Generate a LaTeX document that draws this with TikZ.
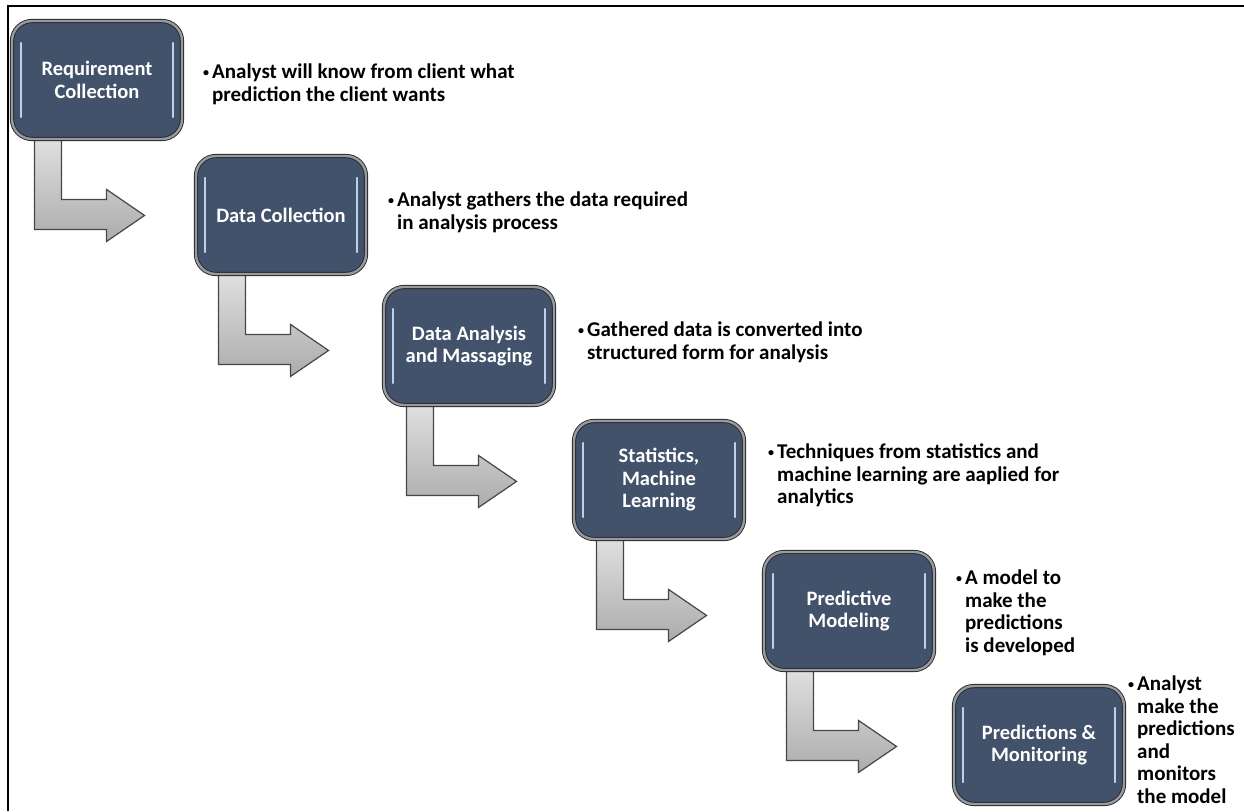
\documentclass[tikz,border=0pt]{standalone}
\usepackage{fontspec}
\setmainfont{Carlito}
\usetikzlibrary{calc,backgrounds}
\definecolor{boxfill}{RGB}{66,82,106}
\definecolor{boxring}{RGB}{150,155,162}
\definecolor{hilite}{RGB}{190,208,232}
\definecolor{arrline}{RGB}{70,70,70}
\tikzset{
  stagebox/.style={draw=black!85, line width=0.9pt, double=boxring, double distance=2.4pt,
    fill=boxfill, rounded corners=20pt, minimum width=170pt, minimum height=118pt,
    text=white, font=\bfseries\fontsize{20.5}{22.5}\selectfont, align=center, inner sep=4pt,
    path picture={
      \draw[hilite, line width=2.4pt, line cap=round]
        ($(path picture bounding box.north west)+(9,22)$) -- ($(path picture bounding box.south west)+(9,-22)$);
      \draw[hilite, line width=2.4pt, line cap=round]
        ($(path picture bounding box.north east)+(-9,22)$) -- ($(path picture bounding box.south east)+(-9,-22)$);
    }},
  desc/.style={anchor=north west, inner sep=0pt, font=\bfseries\fontsize{21}{22.5}\selectfont, text=black},
  bentarrow/.style={draw=arrline, line width=1.2pt, top color=gray!25, bottom color=gray!65, line join=miter},
}
\newcommand{\smbullet}{\raisebox{2.5pt}{\fontsize{12}{12}\selectfont •}}
\newcommand{\bulletlines}[1]{\begin{tabular}{@{}l@{\hspace{3pt}}l@{}}#1\end{tabular}}
\newcommand{\stagearrow}[2]{%
  \path[bentarrow]
    ($(#1.south west)+(23,0)$) -- ($(#1.south west)+(23,90)$) -- ($(#1.south west)+(95,90)$)
    -- ($(#1.south west)+(95,102)$) -- ($(#1.south west)+(133,76)$) coordinate (tip#1)
    -- ($(#1.south west)+(95,50)$) -- ($(#1.south west)+(95,60)$) -- ($(#1.south west)+(50,60)$)
    -- ($(#1.south west)+(50,0)$) -- cycle;}
\begin{document}
\begin{tikzpicture}[x=1pt,y=-1pt]
\useasboundingbox (0,0) rectangle (1244,811);
\draw[black, line width=2.6pt] (8,811) -- (8,6) -- (1244,6);

\node[stagebox] (b1) at (97,80) {Requirement\\Collection};
\node[stagebox] (b2) at (281,215) {Data Collection};
\node[stagebox] (b3) at (469,346) {Data Analysis\\and Massaging};
\node[stagebox] (b4) at (659,480) {Statistics,\\Machine\\Learning};
\node[stagebox] (b5) at (849,611) {Predictive\\Modeling};
\node[stagebox] (b6) at (1039,745) {Predictions \&\\Monitoring};

\begin{pgfonlayer}{background}
\stagearrow{b1}{b2}
\stagearrow{b2}{b3}
\stagearrow{b3}{b4}
\stagearrow{b4}{b5}
\stagearrow{b5}{b6}
\end{pgfonlayer}

\node[desc] (t1) at (203,63) {\bulletlines{\smbullet&Analyst will know from client what\\&prediction the client wants}};
\node[desc] (t2) at (388,191) {\bulletlines{\smbullet&Analyst gathers the data required\\&in analysis process}};
\node[desc] (t3) at (578,321) {\bulletlines{\smbullet&Gathered data is converted into\\&structured form for analysis}};
\node[desc] (t4) at (768,443) {\bulletlines{\smbullet&Techniques from statistics and\\&machine learning are aaplied for\\&analytics}};
\node[desc] (t5) at (956,569) {\bulletlines{\smbullet&A model to\\&make the\\&predictions\\&is developed}};
\node[desc] (t6) at (1128,675) {\bulletlines{\smbullet&Analyst\\&make the\\&predictions\\&and\\&monitors\\&the model}};
\end{tikzpicture}
\end{document}
